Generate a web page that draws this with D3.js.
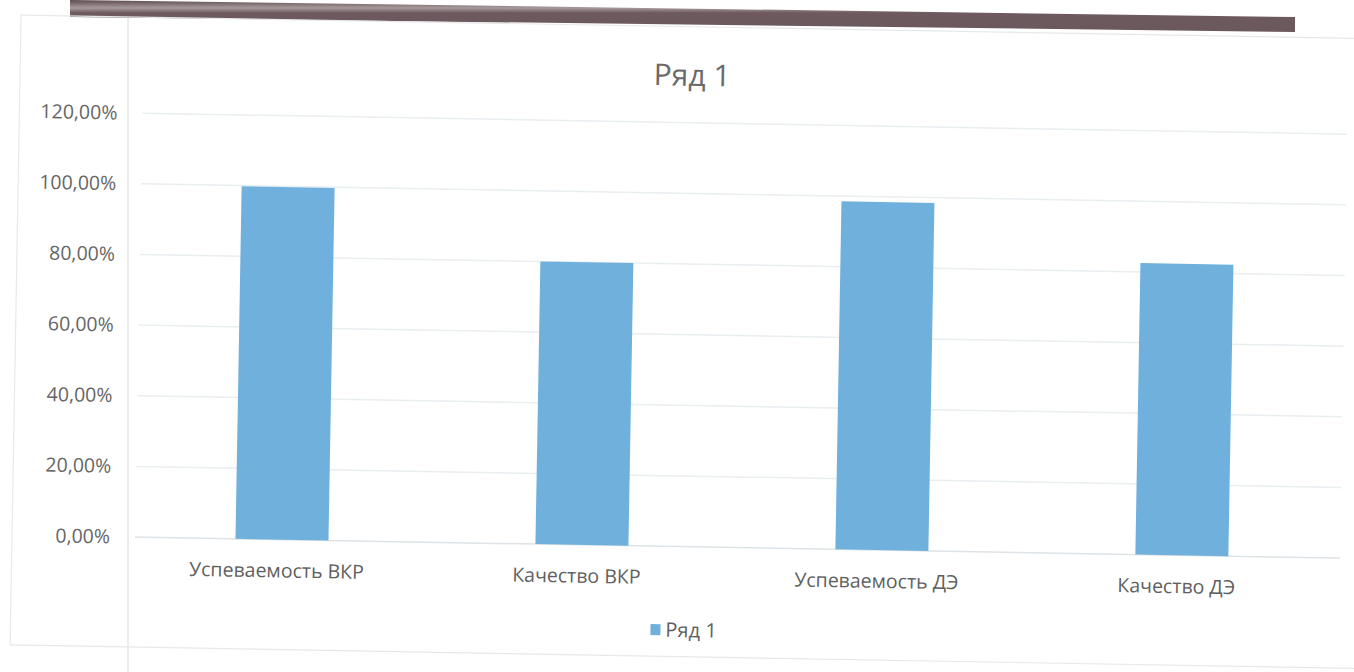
<!DOCTYPE html>
<html>
<head>
<meta charset="utf-8">
<script src="https://cdn.jsdelivr.net/npm/d3@7"></script>
<style>
  body { margin: 0; background: #fff; }
  svg { display: block; font-family: "Open Sans", "Noto Sans", sans-serif; }
</style>
</head>
<body>
<svg id="chart" width="1354" height="672"></svg>
<script>
// data
const categories = ['Успеваемость ВКР', 'Качество ВКР', 'Успеваемость ДЭ', 'Качество ДЭ'];
const values = [0.998, 0.80, 0.985, 0.825];
const seriesName = 'Ряд 1';
const yTicks = [0, 0.2, 0.4, 0.6, 0.8, 1.0, 1.2];

const width = 1354, height = 672;
const pivot = {x: 130, y: 537};   // scan is tilted about 1 degree
const tilt = 1;

const svg = d3.select('#chart');

// page line and the dark strip at the top of the scan
svg.append('line')
    .attr('x1', 128).attr('x2', 128).attr('y1', 0).attr('y2', height)
    .attr('stroke', '#e4e6e8').attr('stroke-width', 1.5);

const grad = svg.append('defs').append('linearGradient')
    .attr('id', 'strip').attr('x1', 0).attr('x2', 0).attr('y1', 0).attr('y2', 1);
grad.append('stop').attr('offset', '0%').attr('stop-color', '#5d4a4e');
grad.append('stop').attr('offset', '25%').attr('stop-color', '#a89a9c');
grad.append('stop').attr('offset', '40%').attr('stop-color', '#6e5a5e');
grad.append('stop').attr('offset', '100%').attr('stop-color', '#6a585c');

svg.append('path')
    .attr('d', 'M70,0 L1295,17 L1295,32 L70,17 Z')
    .attr('fill', 'url(#strip)');

const g = svg.append('g')
    .attr('transform', `rotate(${tilt}, ${pivot.x}, ${pivot.y})`);

// chart area border
g.append('rect')
    .attr('x', 12).attr('y', 17).attr('width', 1400).attr('height', 630)
    .attr('fill', 'none').attr('stroke', '#e6e8ea').attr('stroke-width', 1.2);

const x = d3.scaleBand()
    .domain(categories)
    .range([132, 1332])
    .paddingInner(0.69)
    .paddingOuter(0.345);

const y = d3.scaleLinear()
    .domain([0, 1.2])
    .range([pivot.y, pivot.y - 424]);

const fmt = (v) => d3.format('.2f')(v * 100).replace('.', ',') + '%';

// gridlines
g.append('g')
    .selectAll('line')
    .data(yTicks)
    .join('line')
    .attr('x1', 135).attr('x2', 1340)
    .attr('y1', (d) => y(d)).attr('y2', (d) => y(d))
    .attr('stroke', (d) => d === 0 ? '#dde3e7' : '#e9eef1')
    .attr('stroke-width', 1.5);

// y tick labels
const yAxis = d3.axisLeft(y).tickValues(yTicks).tickFormat(fmt).tickSize(0).tickPadding(20);
g.append('g')
    .attr('transform', `translate(${pivot.x},0)`)
    .call(yAxis)
    .call((s) => s.select('.domain').remove())
    .selectAll('text')
    .attr('font-family', '"Open Sans", sans-serif')
    .attr('font-size', 19.5)
    .attr('fill', '#656565');

// bars
g.append('g')
    .selectAll('rect')
    .data(values)
    .join('rect')
    .attr('x', (d, i) => x(categories[i]))
    .attr('width', x.bandwidth())
    .attr('y', (d) => y(d))
    .attr('height', (d) => y(0) - y(d))
    .attr('fill', '#6fb0dd');

// category labels
const xAxis = d3.axisBottom(x).tickSize(0).tickPadding(24);
g.append('g')
    .attr('transform', `translate(0,${pivot.y})`)
    .call(xAxis)
    .call((s) => s.select('.domain').remove())
    .selectAll('text')
    .attr('dx', -5)
    .attr('font-family', '"Open Sans", sans-serif')
    .attr('font-size', 19.5)
    .attr('fill', '#606060');

// title
g.append('text')
    .attr('x', 684).attr('y', 76)
    .attr('text-anchor', 'middle')
    .attr('font-size', 30)
    .attr('fill', '#6a6a6a')
    .text(seriesName);

// legend
const legend = g.append('g').attr('transform', 'translate(652,620)');
legend.append('rect')
    .attr('x', 0).attr('y', -5).attr('width', 10).attr('height', 11)
    .attr('fill', '#6fb0dd');
legend.append('text')
    .attr('x', 15).attr('y', 0)
    .attr('dominant-baseline', 'central')
    .attr('font-size', 20)
    .attr('fill', '#606060')
    .text(seriesName);
</script>
</body>
</html>
